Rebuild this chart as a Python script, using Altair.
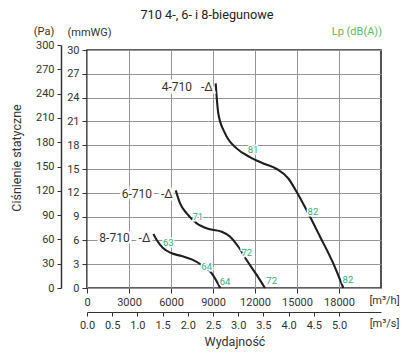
import altair as alt
import pandas as pd

# ---- data (m³/h, mmWG) ----
fans = ["4-710", "6-710", "8-710"]
q4 = [9190, 9380, 9860, 10690, 11640, 12590, 13550, 14380, 14980, 15690, 16640, 17590, 18310]
p4 = [25.8, 22.0, 19.5, 17.6, 16.5, 15.7, 15.0, 13.8, 12.1, 9.8, 6.5, 3.1, 0.0]
q6 = [6340, 6640, 7120, 7840, 8790, 9620, 10210, 10810, 11410, 12120, 12710]
p6 = [12.3, 10.7, 9.4, 8.15, 7.4, 7.1, 6.5, 5.2, 3.5, 1.65, 0.0]
q8 = [4740, 4980, 5450, 6050, 6760, 7480, 8190, 8910, 9520]
p8 = [6.8, 6.05, 5.0, 4.37, 4.03, 3.61, 2.9, 1.85, 0.0]
start_labels = ["4-710\u00a0\u00a0\u00a0-Δ", "6-710\u00a0\u00a0\u00a0-Δ", "8-710\u00a0\u00a0\u00a0-Δ"]

lp_q = [11860, 16140, 18640, 7910, 11410, 13190, 5810, 8550, 9860]
lp_p = [17.4, 9.6, 1.0, 9.0, 4.45, 0.9, 5.7, 2.7, 0.8]
lp_text = ["81", "82", "82", "71", "72", "72", "63", "64", "64"]

x_ticks = [0, 3000, 6000, 9000, 12000, 15000, 18000]
y_ticks = [0, 3, 6, 9, 12, 15, 18, 21, 24, 27, 30]
pa_ticks = [0, 30, 60, 90, 120, 150, 180, 210, 240, 270, 300]
ms_ticks = [0.0, 0.5, 1.0, 1.5, 2.0, 2.5, 3.0, 3.5, 4.0, 4.5, 5.0]

TXT = "#333333"
GREEN = "#38ab78"

rows = []
for fan, qs, ps in zip(fans, [q4, q6, q8], [p4, p6, p8]):
    for i, (q, p) in enumerate(zip(qs, ps)):
        rows.append({"fan": fan, "q": q, "p": p, "i": i})
curves_df = pd.DataFrame(rows)
starts_df = pd.DataFrame({
    "fan": fans,
    "q": [q4[0], q6[0], q8[0]],
    "p": [p4[0], p6[0], p8[0]],
    "label": start_labels,
})
lp_df = pd.DataFrame({"q": lp_q, "p": lp_p, "t": lp_text})

xscale = alt.Scale(domain=[0, 21000], nice=False, zero=True)
yscale = alt.Scale(domain=[0, 30], nice=False, zero=True)

x_axis = alt.Axis(values=x_ticks, format="d", grid=True, gridColor="#959595", gridWidth=1,
                  domain=False, tickSize=5, tickColor=TXT, labelPadding=3,
                  labelFontSize=11, labelColor=TXT, labelFlush=False, labelOverlap=False,
                  title="[m³/h]", titleX=297, titleY=12, titleAlign="center",
                  titleBaseline="middle", titleFontWeight="normal", titleFontSize=11,
                  titleColor=TXT)
y_axis = alt.Axis(values=y_ticks, format="d", grid=True, gridColor="#959595", gridWidth=1,
                  domain=False, tickSize=5, tickColor=TXT, labelPadding=3,
                  labelFontSize=11, labelColor=TXT, labelFlush=False, labelOverlap=False,
                  title="(mmWG)", titleAngle=0, titleX=-20, titleY=-18, titleAlign="left",
                  titleBaseline="middle", titleFontWeight="normal", titleFontSize=11,
                  titleColor=TXT)

def xy():
    return dict(x=alt.X("q:Q", scale=xscale, axis=x_axis),
                y=alt.Y("p:Q", scale=yscale, axis=y_axis))

curves = alt.Chart(curves_df).mark_line(color="#1e1e1e", strokeWidth=2.1,
                                        interpolate="monotone").encode(
    detail="fan:N", order="i:Q", **xy())

start_halo = alt.Chart(starts_df).mark_text(
    align="right", baseline="middle", dx=-3, dy=4, fontSize=12,
    fill="white", stroke="white", strokeWidth=5).encode(text="label:N", **xy())
start_text = alt.Chart(starts_df).mark_text(
    align="right", baseline="middle", dx=-3, dy=4, fontSize=12, color=TXT).encode(
    text="label:N", **xy())

lp_halo = alt.Chart(lp_df).mark_text(
    align="center", baseline="middle", fontSize=9.5,
    fill="white", stroke="white", strokeWidth=3).encode(text="t:N", **xy())
lp_text_l = alt.Chart(lp_df).mark_text(
    align="center", baseline="middle", fontSize=9.5, color=GREEN).encode(
    text="t:N", **xy())

ann_df = pd.DataFrame({"k": [0]})
def ann(text, x, y, size=11, color=TXT, align="center", angle=0):
    return alt.Chart(ann_df).mark_text(text=text, align=align, baseline="middle",
                                       fontSize=size, color=color, angle=angle).encode(
        x=alt.value(x), y=alt.value(y))

title = ann("710 4-, 6- i 8-biegunowe", 120, -35, size=12.7, color="#222222")
lp_head = ann("Lp (dB(A))", 295, -18, size=11, color="#5cb85c", align="right")
pa_head = ann("(Pa)", -43, -18, size=11)
ytitle = ann("Ciśnienie statyczne", -70, 108, size=12.5, angle=270)
xtitle = ann("Wydajność", 148, 292, size=12.5)

inner = alt.layer(curves, start_halo, start_text, lp_halo, lp_text_l,
                  title, lp_head, pa_head, ytitle, xtitle)

pa_df = pd.DataFrame({"pa": [0, 300]})
pa_layer = alt.Chart(pa_df).mark_point(opacity=0).encode(
    y=alt.Y("pa:Q", scale=alt.Scale(domain=[0, 300], range=[238, -5], nice=False),
            axis=alt.Axis(orient="left", offset=26, values=pa_ticks, format="d", grid=False,
                          domain=True, domainColor=TXT, domainWidth=1.5,
                          tickSize=4, tickColor=TXT, labelPadding=3,
                          labelFontSize=11, labelColor=TXT, labelFlush=False,
                          labelOverlap=False, title=""))
)

ms_df = pd.DataFrame({"qs": [0, 5]})
ms_layer = alt.Chart(ms_df).mark_point(opacity=0).encode(
    x=alt.X("qs:Q", scale=alt.Scale(domain=[0, 21000 / 3600], nice=False),
            axis=alt.Axis(orient="bottom", offset=24, values=ms_ticks, format=".1f",
                          grid=False, domain=True, domainColor=TXT, domainWidth=1.2,
                          tickSize=4, tickColor=TXT, labelPadding=3,
                          labelFontSize=11, labelColor=TXT, labelFlush=False,
                          labelOverlap=False,
                          title="[m³/s]", titleX=297, titleY=11, titleAlign="center",
                          titleBaseline="middle", titleFontWeight="normal",
                          titleFontSize=11, titleColor=TXT))
)

chart = alt.layer(inner, pa_layer, ms_layer).resolve_scale(
    x="independent", y="independent"
).properties(
    width=294, height=238,
    autosize=alt.AutoSizeParams(type="none"),
    padding={"left": 79, "top": 42, "right": 20, "bottom": 64},
).configure(font="Roboto").configure_view(stroke="#2a2a2a", strokeWidth=1.6)

chart.save("out.html", embed_options={"renderer": "svg", "actions": False})
